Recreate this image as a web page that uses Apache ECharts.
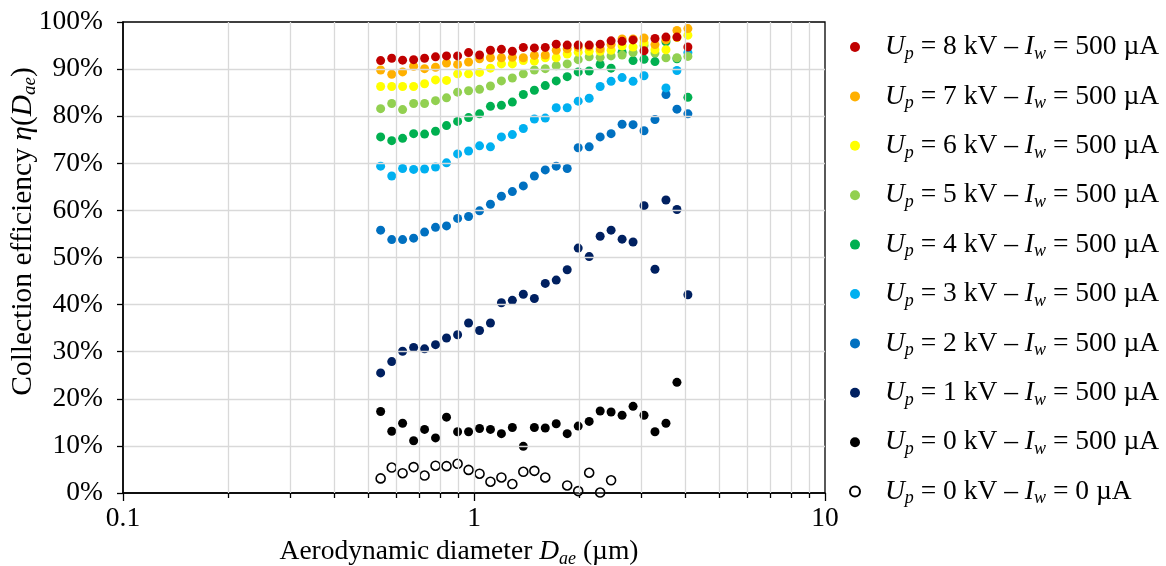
<!DOCTYPE html>
<html><head><meta charset="utf-8">
<script src="https://cdn.jsdelivr.net/npm/echarts@6/dist/echarts.min.js"></script>
<style>html,body{margin:0;padding:0;background:#fff}#c{width:1166px;height:566px}</style>
</head><body><div id="c"></div>
<script>
// Aerodynamic diameter channels (µm)
const diameters = [0.542, 0.583, 0.626, 0.673, 0.723, 0.777, 0.835, 0.898, 0.965, 1.037, 1.114, 1.197, 1.286, 1.382, 1.486, 1.596, 1.715, 1.843, 1.981, 2.129, 2.288, 2.458, 2.642, 2.839, 3.051, 3.278, 3.523, 3.786, 4.068];
// Collection efficiency (%)
const up8 = [91.8, 92.3, 91.9, 92.0, 92.3, 92.6, 92.8, 92.8, 93.5, 93.0, 94.0, 94.2, 93.8, 94.6, 94.5, 94.6, 95.3, 95.1, 95.1, 95.1, 95.3, 96.0, 95.9, 96.2, 93.9, 96.5, 96.8, 96.8, 94.7];
const up7 = [89.8, 88.9, 89.4, 90.6, 90.1, 90.4, 91.3, 91.0, 91.5, 92.2, 92.4, 92.4, 92.5, 92.4, 92.9, 93.0, 94.0, 94.3, 94.6, 94.8, 94.3, 95.2, 96.4, 96.4, 96.6, 95.2, 96.2, 98.2, 98.6];
const up6 = [86.3, 86.3, 86.3, 86.3, 86.9, 87.7, 87.6, 89.0, 89.0, 89.3, 90.2, 91.1, 91.1, 91.8, 91.7, 92.4, 92.4, 93.2, 93.6, 93.8, 93.8, 94.0, 94.9, 94.7, 95.6, 94.1, 94.1, 96.7, 97.2];
const up5 = [81.6, 82.7, 81.4, 82.7, 82.7, 83.3, 83.9, 85.1, 85.4, 85.7, 86.4, 87.5, 88.1, 89.0, 89.8, 90.1, 90.7, 91.1, 92.0, 92.6, 92.5, 92.8, 93.0, 93.5, 95.0, 93.4, 92.4, 92.4, 92.7];
const up4 = [75.6, 74.8, 75.3, 76.3, 76.2, 76.8, 78.0, 78.9, 79.7, 80.5, 82.1, 82.3, 83.0, 84.6, 85.5, 86.5, 87.5, 88.4, 89.4, 89.6, 91.0, 90.2, 93.6, 91.8, 92.1, 91.6, 95.8, 92.2, 84.0];
const up3 = [69.4, 67.3, 68.9, 68.7, 68.8, 69.2, 70.1, 72.0, 72.6, 73.7, 73.5, 75.6, 76.1, 77.4, 79.4, 79.6, 81.8, 81.8, 83.2, 83.8, 86.3, 87.4, 88.2, 87.4, 88.6, null, 86.0, 89.7, 93.5];
const up2 = [55.8, 53.8, 53.8, 54.1, 55.4, 56.4, 56.7, 58.3, 58.7, 59.9, 61.3, 63.0, 64.0, 65.2, 67.3, 68.6, 69.4, 68.9, 73.3, 73.5, 75.6, 76.3, 78.3, 78.2, 76.9, 79.3, 84.6, 81.5, 80.5];
const up1 = [25.5, 27.9, 30.1, 30.9, 30.6, 31.5, 32.9, 33.6, 36.1, 34.5, 36.1, 40.4, 40.9, 42.2, 41.3, 44.5, 45.2, 47.4, 52.0, 50.2, 54.5, 55.8, 53.9, 53.3, 61.0, 47.5, 62.2, 60.2, 42.1];
const up0 = [17.3, 13.1, 14.8, 11.1, 13.5, 11.7, 16.1, 13.0, 13.0, 13.7, 13.5, 12.6, 13.9, 9.9, 13.9, 13.8, 14.7, 12.6, 14.2, 15.2, 17.4, 17.2, 16.5, 18.4, 16.5, 13.0, 14.8, 23.5, null];
const noCurrent = [3.1, 5.4, 4.2, 5.5, 3.7, 5.8, 5.7, 6.2, 4.9, 4.1, 2.4, 3.3, 1.9, 4.5, 4.7, 3.3, null, 1.6, 0.4, 4.3, 0.1, 2.7, null, null, null, null, null, null, null];

// legend labels (Up kV, Iw µA) and colours, top-to-bottom legend order
const voltages = ['8', '7', '6', '5', '4', '3', '2', '1', '0', '0'];
const currents = ['500', '500', '500', '500', '500', '500', '500', '500', '500', '0'];
const colors = ['#C00000', '#FFB000', '#FFFF00', '#92D050', '#00B050', '#00B0F0', '#0070C0', '#002060', '#000000', '#FFFFFF'];
const seriesValues = [up8, up7, up6, up5, up4, up3, up2, up1, up0, noCurrent];

const yTicks = [0, 10, 20, 30, 40, 50, 60, 70, 80, 90, 100];
const xMajor = [0.1, 1, 10];
const xMinor = [0.2, 0.3, 0.4, 0.5, 0.6, 0.7, 0.8, 0.9, 2, 3, 4, 5, 6, 7, 8, 9];

const F = "'Liberation Serif', 'Times New Roman', serif";
const FS = 27.5;
function makeRich(fs, sub) {
  return {
    n: {fontFamily: F, fontSize: fs, color: '#000', lineHeight: 32},
    i: {fontFamily: F, fontSize: fs, fontStyle: 'italic', color: '#000', lineHeight: 32},
    s: {fontFamily: F, fontSize: sub, fontStyle: 'italic', color: '#000', lineHeight: 15, verticalAlign: 'bottom'}
  };
}
const rich = makeRich(FS, 18);
const richY = makeRich(29.5, 19);

const names = voltages.map((v, k) => 'Up = ' + v + ' kV – Iw = ' + currents[k] + ' µA');
const labelMap = {};
names.forEach((nm, k) => {
  labelMap[nm] = '{i|U}{s|p}{n| = ' + voltages[k] + ' kV – }{i|I}{s|w}{n| = ' + currents[k] + ' µA}';
});

const series = [];
for (let k = seriesValues.length - 1; k >= 0; k--) {
  const vals = seriesValues[k];
  const data = [];
  diameters.forEach((d, j) => { if (vals[j] != null) data.push([d, vals[j]]); });
  const open = k === seriesValues.length - 1;
  series.push({
    name: names[k],
    type: 'scatter',
    xAxisIndex: 0,
    yAxisIndex: 0,
    symbol: 'circle',
    symbolSize: 9,
    data: data,
    itemStyle: open ? {color: '#FFFFFF', borderColor: '#000', borderWidth: 1.6, opacity: 1} : {color: colors[k], opacity: 1},
    emphasis: {disabled: true}
  });
}

const gridLine = {color: '#d9d9d9', width: 1.3};

const option = {
  backgroundColor: '#fff',
  animation: false,
  grid: {left: 123, right: 341, top: 22, bottom: 73, show: true, borderColor: '#000', borderWidth: 1.3, backgroundColor: 'transparent', containLabel: false, outerBoundsMode: 'none'},
  legend: {
    data: names,
    orient: 'vertical',
    left: 844,
    top: 26,
    padding: 5,
    itemGap: 17.4,
    itemWidth: 50,
    itemHeight: 10,
    icon: 'circle',
    selectedMode: false,
    formatter: function (nm) { return labelMap[nm]; },
    textStyle: {fontFamily: F, fontSize: FS, color: '#000', lineHeight: 32, rich: rich}
  },
  xAxis: [
    {
      type: 'log', logBase: 10, min: 0.1, max: 10, position: 'bottom',
      name: '{n|Aerodynamic diameter }{i|D}{s|ae}{n| (µm)}',
      nameLocation: 'middle', nameGap: 40,
      nameTextStyle: {fontFamily: F, fontSize: FS, color: '#000', rich: rich, padding: [0, 30, 0, 0]},
      axisLine: {show: true, onZero: false, lineStyle: {color: '#000', width: 1.5}},
      axisTick: {show: true, length: 8, lineStyle: {color: '#000', width: 1.3}},
      axisLabel: {fontFamily: F, fontSize: FS, color: '#000', margin: 12, formatter: function (v) { return String(v); }},
      splitLine: {show: true, showMinLine: false, showMaxLine: false, lineStyle: gridLine},
      minorTick: {show: false},
      z: 3
    },
    {
      type: 'log', logBase: 10, min: 0.1, max: 10, position: 'bottom', gridIndex: 0,
      axisLine: {show: false},
      axisTick: {show: true, length: 5, customValues: xMinor, lineStyle: {color: '#000', width: 1.3}},
      axisLabel: {show: false},
      splitLine: {show: false},
      z: 2
    }
  ],
  yAxis: [{
    type: 'value', min: 0, max: 100, interval: 10,
    name: '{n|Collection efficiency }{i|η}{n|(}{i|D}{s|ae}{n|)}',
    nameLocation: 'middle', nameGap: 84, nameRotate: 90, nameMoveOverlap: false,
    nameTextStyle: {fontFamily: F, fontSize: 29.5, color: '#000', rich: richY, padding: [0, 0, 0, 52]},
    axisLine: {show: true, onZero: false, lineStyle: {color: '#000', width: 1.5}},
    axisTick: {show: true, length: 6, lineStyle: {color: '#000', width: 1.3}},
    axisLabel: {fontFamily: F, fontSize: FS, color: '#000', margin: 20, formatter: '{value}%'},
    splitLine: {show: true, showMinLine: false, showMaxLine: false, lineStyle: gridLine},
    z: 3
  }],
  series: series.concat([{
    type: 'line', xAxisIndex: 0, yAxisIndex: 0, data: [], silent: true, z: 1,
    markLine: {
      silent: true, symbol: 'none', label: {show: false},
      lineStyle: {color: '#d9d9d9', width: 1.3, type: 'solid'},
      data: xMinor.map(v => ({xAxis: v}))
    }
  }])
};

const chart = echarts.init(document.getElementById('c'), null, {renderer: 'canvas'});
chart.setOption(option);
</script>
</body></html>
